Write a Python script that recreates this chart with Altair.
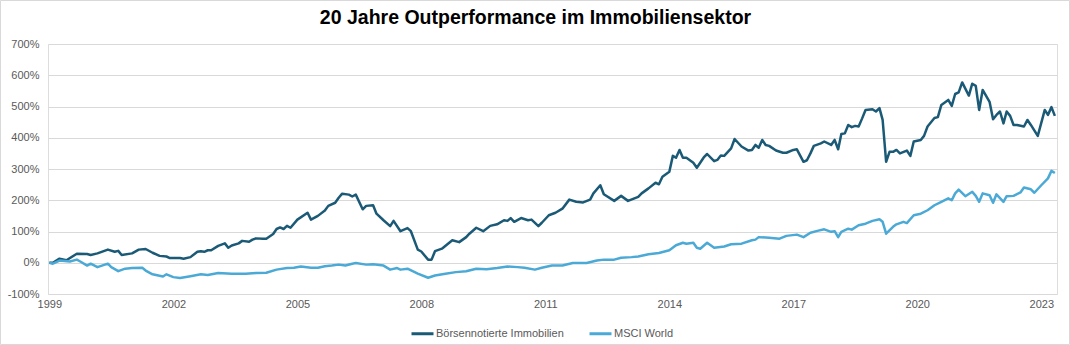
import altair as alt
import pandas as pd

title_text = "20 Jahre Outperformance im Immobiliensektor"
series_names = ["Börsennotierte Immobilien", "MSCI World"]
series_colors = ["#1b5a76", "#4ba9d6"]

immo_dates = [
    "1999-01", "1999-02", "1999-04", "1999-06", "1999-09", "1999-12", "2000-01", "2000-03",
    "2000-06", "2000-08", "2000-09", "2000-10", "2001-01", "2001-03", "2001-05", "2001-07",
    "2001-09", "2001-11", "2001-12", "2002-03", "2002-04", "2002-06", "2002-08", "2002-09",
    "2002-10", "2002-11", "2002-12", "2003-02", "2003-04", "2003-05", "2003-06", "2003-08",
    "2003-09", "2003-11", "2003-12", "2004-01", "2004-03", "2004-04", "2004-06", "2004-07",
    "2004-08", "2004-09", "2004-10", "2004-11", "2005-01", "2005-04", "2005-05", "2005-07",
    "2005-09", "2005-10", "2005-12", "2006-01", "2006-02", "2006-04", "2006-05", "2006-06",
    "2006-08", "2006-09", "2006-11", "2006-12", "2007-02", "2007-04", "2007-05", "2007-07",
    "2007-09", "2007-10", "2007-12", "2008-01", "2008-03", "2008-04", "2008-05", "2008-07",
    "2008-10", "2008-12", "2009-02", "2009-03", "2009-05", "2009-07", "2009-09", "2009-11",
    "2010-01", "2010-02", "2010-03", "2010-04", "2010-06", "2010-08", "2010-09", "2010-11",
    "2010-12", "2011-02", "2011-04", "2011-06", "2011-08", "2011-10", "2011-12", "2012-02",
    "2012-03", "2012-05", "2012-06", "2012-09", "2012-11", "2013-01", "2013-04", "2013-05",
    "2013-07", "2013-09", "2013-10", "2013-11", "2014-01", "2014-02", "2014-03", "2014-04",
    "2014-05", "2014-06", "2014-08", "2014-09", "2014-11", "2014-12", "2015-02", "2015-03",
    "2015-04", "2015-05", "2015-07", "2015-08", "2015-10", "2015-12", "2016-01", "2016-02",
    "2016-03", "2016-04", "2016-05", "2016-06", "2016-08", "2016-10", "2016-11", "2017-01",
    "2017-02", "2017-04", "2017-05", "2017-06", "2017-07", "2017-09", "2017-10", "2017-12",
    "2018-01", "2018-02", "2018-03", "2018-04", "2018-05", "2018-06", "2018-07", "2018-08",
    "2018-09", "2018-10", "2018-12", "2019-01", "2019-02", "2019-03", "2019-04", "2019-05",
    "2019-06", "2019-07", "2019-08", "2019-10", "2019-11", "2019-12", "2020-02", "2020-03",
    "2020-04", "2020-06", "2020-07", "2020-08", "2020-10", "2020-11", "2020-12", "2021-01",
    "2021-02", "2021-04", "2021-05", "2021-06", "2021-07", "2021-08", "2021-10", "2021-11",
    "2021-12", "2022-01", "2022-02", "2022-03", "2022-04", "2022-05", "2022-06", "2022-08",
    "2022-09", "2022-10", "2022-12", "2023-02", "2023-03", "2023-04", "2023-05",
]
immo_values = [
    0, 0, 13, 8, 29, 28, 25, 30,
    42, 35, 38, 25, 30, 42, 44, 32,
    22, 20, 15, 15, 13, 18, 35, 37,
    35, 40, 40, 54, 62, 48, 55, 62,
    70, 67, 74, 78, 77, 77, 92, 108,
    113, 108, 118, 112, 138, 160, 138, 150,
    167, 182, 192, 208, 221, 218, 212, 218,
    171, 182, 184, 157, 136, 117, 134, 101,
    111, 101, 42, 36, 10, 10, 37, 45,
    72, 66, 82, 93, 112, 101, 118, 123,
    136, 134, 143, 131, 143, 136, 138, 117,
    128, 152, 160, 173, 202, 195, 193, 202,
    222, 248, 219, 198, 214, 198, 211, 222,
    238, 256, 251, 275, 291, 342, 336, 361,
    336, 336, 320, 304, 337, 348, 325, 329,
    343, 342, 366, 396, 372, 359, 361, 377,
    368, 393, 377, 374, 359, 352, 352, 361,
    363, 323, 328, 350, 374, 382, 388, 377,
    393, 363, 412, 414, 441, 434, 438, 436,
    462, 489, 491, 484, 495, 457, 323, 355,
    355, 361, 350, 359, 342, 388, 393, 406,
    436, 463, 466, 505, 521, 502, 540, 545,
    577, 535, 573, 566, 489, 553, 515, 459,
    473, 484, 446, 484, 470, 441, 441, 436,
    457, 441, 406, 489, 473, 498, 470,
]

msci_dates = [
    "1999-01", "1999-02", "1999-04", "1999-07", "1999-09", "1999-10", "1999-12", "2000-01",
    "2000-03", "2000-06", "2000-07", "2000-09", "2000-11", "2001-01", "2001-04", "2001-05",
    "2001-07", "2001-10", "2001-11", "2002-01", "2002-03", "2002-06", "2002-09", "2002-11",
    "2003-02", "2003-06", "2003-10", "2004-01", "2004-04", "2004-07", "2004-10", "2004-12",
    "2005-02", "2005-05", "2005-07", "2005-09", "2005-11", "2006-01", "2006-03", "2006-05",
    "2006-06", "2006-09", "2006-11", "2007-02", "2007-04", "2007-06", "2007-07", "2007-09",
    "2007-12", "2008-03", "2008-05", "2008-08", "2008-11", "2009-02", "2009-05", "2009-08",
    "2009-11", "2010-02", "2010-05", "2010-07", "2010-10", "2010-12", "2011-03", "2011-06",
    "2011-09", "2012-01", "2012-04", "2012-06", "2012-09", "2012-11", "2013-02", "2013-04",
    "2013-07", "2013-10", "2014-01", "2014-03", "2014-05", "2014-06", "2014-08", "2014-09",
    "2014-10", "2014-12", "2015-02", "2015-05", "2015-07", "2015-10", "2016-01", "2016-02",
    "2016-03", "2016-06", "2016-09", "2016-11", "2017-02", "2017-04", "2017-06", "2017-08",
    "2017-10", "2017-12", "2018-01", "2018-02", "2018-03", "2018-05", "2018-06", "2018-08",
    "2018-10", "2018-12", "2019-02", "2019-03", "2019-04", "2019-06", "2019-07", "2019-09",
    "2019-10", "2019-12", "2020-02", "2020-04", "2020-06", "2020-08", "2020-10", "2020-11",
    "2020-12", "2021-01", "2021-03", "2021-05", "2021-06", "2021-07", "2021-08", "2021-10",
    "2021-11", "2021-12", "2022-02", "2022-03", "2022-05", "2022-07", "2022-08", "2022-10",
    "2022-11", "2023-01", "2023-03", "2023-04", "2023-05",
]
msci_values = [
    0, -3, 7, 4, 10, 4, -9, -3,
    -14, -3, -14, -27, -19, -17, -16, -25,
    -37, -44, -37, -46, -49, -43, -37, -39,
    -33, -35, -35, -33, -32, -22, -17, -16,
    -12, -16, -16, -11, -9, -6, -9, -3,
    -1, -6, -5, -9, -22, -17, -22, -19,
    -35, -48, -41, -35, -30, -27, -19, -21,
    -17, -12, -14, -16, -22, -16, -9, -9,
    -1, -1, 7, 10, 10, 16, 18, 20,
    27, 31, 40, 56, 64, 61, 64, 48,
    45, 64, 48, 52, 59, 61, 72, 74,
    82, 80, 77, 86, 90, 82, 96, 102,
    107, 99, 101, 82, 99, 109, 106, 120,
    125, 134, 139, 131, 93, 115, 123, 131,
    127, 152, 157, 168, 184, 195, 206, 200,
    222, 234, 213, 227, 214, 195, 222, 216,
    192, 219, 195, 213, 214, 225, 241, 235,
    224, 248, 270, 294, 287,
]

y_ticks = [-100, 0, 100, 200, 300, 400, 500, 600, 700]
x_tick_years = [1999, 2002, 2005, 2008, 2011, 2014, 2017, 2020, 2023]

rows = []
for d, v in zip(immo_dates, immo_values):
    rows.append({"Datum": d + "-01", "Wert": v, "Serie": series_names[0]})
for d, v in zip(msci_dates, msci_values):
    rows.append({"Datum": d + "-01", "Wert": v, "Serie": series_names[1]})
df = pd.DataFrame(rows)

FONT = "Liberation Sans"
GRAY = "#595959"

lines = alt.Chart(df).mark_line(strokeWidth=2.5, strokeJoin="round").encode(
    x=alt.X(
        "Datum:T",
        scale=alt.Scale(domain=[alt.DateTime(year=1998, month=12, date=20),
                                alt.DateTime(year=2023, month=5, date=20)]),
        axis=alt.Axis(
            title=None,
            values=[alt.DateTime(year=y, month=1, date=1) for y in x_tick_years],
            format="%Y",
            grid=False,
            ticks=False,
            domain=False,
            labelPadding=4,
            labelFontSize=11,
            labelColor=GRAY,
            labelFont=FONT,
            labelFlush=False,
        ),
    ),
    y=alt.Y(
        "Wert:Q",
        scale=alt.Scale(domain=[-100, 700], nice=False),
        axis=alt.Axis(
            title=None,
            values=y_ticks,
            labelExpr="datum.value + '%'",
            ticks=False,
            domain=False,
            gridColor="#d9d9d9",
            gridWidth=1,
            labelPadding=9,
            labelFontSize=11,
            labelColor=GRAY,
            labelFont=FONT,
        ),
    ),
    color=alt.Color(
        "Serie:N",
        scale=alt.Scale(domain=series_names, range=series_colors),
        sort=series_names,
        legend=alt.Legend(
            title=None,
            orient="none",
            direction="horizontal",
            legendX=362,
            legendY=277,
            symbolType="stroke",
            symbolSize=484,
            symbolStrokeWidth=3,
            labelFontSize=11,
            labelColor=GRAY,
            labelFont=FONT,
            labelOffset=1,
            columnPadding=19,
        ),
    ),
    detail="Serie:N",
)

frame = alt.Chart(pd.DataFrame({"a": [0]})).mark_rect(
    fill=None, stroke="#d9d9d9", strokeWidth=1
).encode(
    x=alt.value(-47.5), x2=alt.value(1021.5), y=alt.value(-43.5), y2=alt.value(300.5)
)

chart = alt.layer(frame, lines).properties(
    width=1009,
    height=250,
    title=alt.TitleParams(
        title_text, fontSize=19.5, font=FONT, fontWeight="bold", color="#000000",
        anchor="middle", dx=-17, offset=0, dy=28,
    ),
    autosize=alt.AutoSizeParams(type="none"),
    padding={"left": 48, "top": 44, "right": 13, "bottom": 51},
).configure_view(stroke=None).configure(background="#ffffff")

chart.save("out.html", embed_options={"renderer": "svg", "actions": False})
